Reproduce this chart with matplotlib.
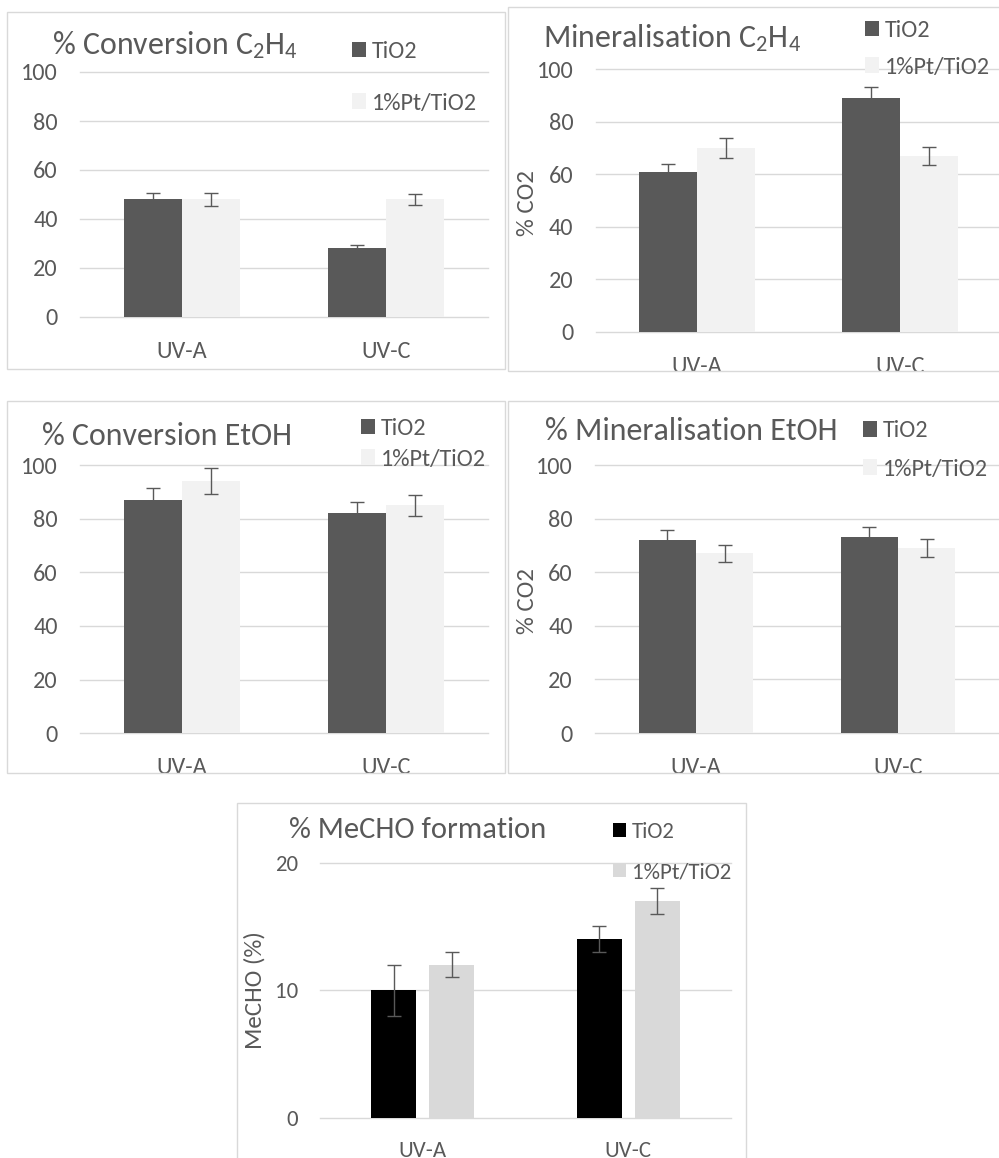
import numpy as np
import matplotlib
matplotlib.use("Agg")
import matplotlib.pyplot as plt
from matplotlib.patches import Rectangle
from matplotlib.transforms import Bbox, TransformedBbox

# ---------------- data ----------------
categories = ["UV-A", "UV-C"]
series_names = ["TiO2", "1%Pt/TiO2"]

conv_c2h4_tio2 = [48, 28]
conv_c2h4_tio2_err = [2.5, 1.5]
conv_c2h4_pt = [48, 48]
conv_c2h4_pt_err = [2.5, 2.3]

min_c2h4_tio2 = [61, 89]
min_c2h4_tio2_err = [3.0, 4.0]
min_c2h4_pt = [70, 67]
min_c2h4_pt_err = [3.8, 3.4]

conv_etoh_tio2 = [87, 82]
conv_etoh_tio2_err = [4.4, 4.3]
conv_etoh_pt = [94, 85]
conv_etoh_pt_err = [4.7, 4.0]

min_etoh_tio2 = [72, 73]
min_etoh_tio2_err = [3.8, 4.0]
min_etoh_pt = [67, 69]
min_etoh_pt_err = [3.3, 3.4]

mecho_tio2 = [10, 14]
mecho_tio2_err = [2.0, 1.0]
mecho_pt = [12, 17]
mecho_pt_err = [1.0, 1.0]

yticks_pct = [0, 20, 40, 60, 80, 100]
yticks_mecho = [0, 10, 20]

titles = [r"% Conversion C$_2$H$_4$", r"Mineralisation C$_2$H$_4$",
          "% Conversion EtOH", "% Mineralisation EtOH", "% MeCHO formation"]
ylabels = [None, "% CO2", None, "% CO2", "MeCHO (%)"]

# ---------------- style ----------------
plt.rcParams["font.family"] = ["Carlito", "Lato", "DejaVu Sans"]
plt.rcParams["mathtext.fontset"] = "custom"
plt.rcParams["mathtext.rm"] = "Carlito"
plt.rcParams["mathtext.it"] = "Carlito"
plt.rcParams["mathtext.default"] = "regular"

TXT = "#595959"
GRID = "#D9D9D9"
DARK = "#595959"
LIGHT = "#F2F2F2"

W, H = 999, 1158
fig = plt.figure(figsize=(W / 100, H / 100), dpi=100)


def fx(px):
    return px / W


def fy(py):
    return 1 - py / H


def border(x0, y0, x1, y1):
    fig.add_artist(Rectangle((fx(x0), fy(y1)), (x1 - x0) / W, (y1 - y0) / H,
                             transform=fig.transFigure, fill=False,
                             edgecolor=GRID, lw=1.0))


def panel(rect, tvals, terr, pvals, perr, colors, width, offset, yticks,
          title, title_xy, leg_xy, labelspacing, ylabel=None, ylabel_xy=None,
          clip_y=None, fs=17.5, tfs=23, lfs=18):
    l, r, t, b = rect
    ax = fig.add_axes([fx(l), fy(b), (r - l) / W, (b - t) / H])
    x = np.arange(len(categories))
    b1 = ax.bar(x - offset, tvals, width, color=colors[0], zorder=2)
    b2 = ax.bar(x + offset, pvals, width, color=colors[1], zorder=2)
    ax.errorbar(x - offset, tvals, yerr=terr, fmt="none", ecolor=DARK,
                elinewidth=1.0, capsize=4.7, capthick=1.0, zorder=3)
    ax.errorbar(x + offset, pvals, yerr=perr, fmt="none", ecolor=DARK,
                elinewidth=1.0, capsize=4.7, capthick=1.0, zorder=3)
    ax.set_xlim(-0.5, len(categories) - 0.5)
    ax.set_ylim(yticks[0], yticks[-1])
    ax.set_yticks(yticks)
    ax.set_xticks(x)
    ax.set_xticklabels(categories)
    for s in ax.spines.values():
        s.set_visible(False)
    ax.yaxis.grid(True, color=GRID, lw=1.0, zorder=0)
    ax.set_axisbelow(True)
    ax.tick_params(axis="y", length=0, pad=16, labelsize=fs, labelcolor=TXT)
    ax.tick_params(axis="x", length=0, pad=17, labelsize=fs, labelcolor=TXT)
    for gl in ax.get_ygridlines():
        gl.set_clip_on(False)
    fig.text(fx(title_xy[0]), fy(title_xy[1]), title, fontsize=tfs, color=TXT,
             ha="left", va="baseline")
    ax.legend([b1, b2], series_names, loc="center left",
              bbox_to_anchor=(fx(leg_xy[0]), fy(leg_xy[1])),
              bbox_transform=fig.transFigure, frameon=False, borderpad=0,
              borderaxespad=0, handlelength=0.58, handleheight=0.6,
              handletextpad=0.25, labelspacing=labelspacing, fontsize=fs,
              labelcolor=TXT)
    if ylabel:
        fig.text(fx(ylabel_xy[0]), fy(ylabel_xy[1]), ylabel, rotation=90,
                 fontsize=lfs, color=TXT, ha="center", va="center")
    if clip_y is not None:
        cb = TransformedBbox(Bbox.from_extents(0, fy(clip_y), 1, 1),
                             fig.transFigure)
        for lbl in ax.get_xticklabels():
            lbl.set_clip_box(cb)
            lbl.set_clip_on(True)
    return ax


# borders
border(7, 12, 505.5, 369)
border(507.5, 7, 1010, 370.5)
border(7, 401, 505, 773)
border(507.5, 401, 1010, 773)
border(237, 803, 746, 1170)

panel((80, 488, 72, 317), conv_c2h4_tio2, conv_c2h4_tio2_err, conv_c2h4_pt,
      conv_c2h4_pt_err, (DARK, LIGHT), 0.284, 0.142, yticks_pct,
      titles[0], (52, 54.5), (352, 77.5), 1.25)
panel((595.5, 1001.5, 69, 332), min_c2h4_tio2, min_c2h4_tio2_err, min_c2h4_pt,
      min_c2h4_pt_err, (DARK, LIGHT), 0.284, 0.142, yticks_pct,
      titles[1], (543, 46.7), (865, 49), 0.63, ylabels[1], (528, 202.5),
      clip_y=370.5)
panel((80, 488, 465, 733.3), conv_etoh_tio2, conv_etoh_tio2_err, conv_etoh_pt,
      conv_etoh_pt_err, (DARK, LIGHT), 0.284, 0.142, yticks_pct,
      titles[2], (42, 445), (361, 444), 0.39, clip_y=773)
panel((595, 999, 465, 733), min_etoh_tio2, min_etoh_tio2_err, min_etoh_pt,
      min_etoh_pt_err, (DARK, LIGHT), 0.284, 0.142, yticks_pct,
      titles[3], (545, 440), (863, 450), 0.70, ylabels[3], (528, 601),
      clip_y=773)
panel((320, 731, 862.7, 1117.7), mecho_tio2, mecho_tio2_err, mecho_pt,
      mecho_pt_err, ("#000000", "#D9D9D9"), 0.221, 0.141, yticks_mecho,
      titles[4], (289, 838.3), (613, 852), 0.88, ylabels[4], (255, 990),
      fs=16.5, tfs=22)

fig.savefig("out.png", dpi=100, facecolor="white")
